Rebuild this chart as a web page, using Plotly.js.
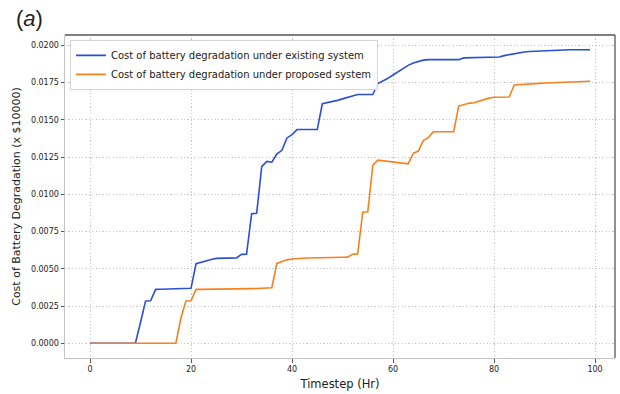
<!DOCTYPE html>
<html>
<head>
<meta charset="utf-8">
<script src="https://cdn.plot.ly/plotly-3.0.1.min.js"></script>
<style>
  html, body { margin: 0; padding: 0; background: #ffffff; }
  #chart { width: 620px; height: 394px; }
</style>
</head>
<body>
<div id="chart"></div>
<script>
// Hourly timesteps 0..99
const timesteps = Array.from({length: 100}, (_, i) => i);

// Cumulative battery degradation cost (x $10000), existing system
const costExisting = [
  0, 0, 0, 0, 0, 0, 0, 0, 0, 0.00002,
  0.0014, 0.00284, 0.00285, 0.00362, 0.00363, 0.00364, 0.00365, 0.00366, 0.00367, 0.00368,
  0.00369, 0.00534, 0.00545, 0.00553, 0.00562, 0.0057, 0.00571, 0.00571, 0.00572, 0.00573,
  0.00597, 0.00598, 0.0087, 0.00872, 0.01185, 0.0122, 0.01215, 0.0127, 0.01295, 0.01378,
  0.014, 0.01434, 0.01434, 0.01434, 0.01434, 0.01434, 0.01607, 0.01613, 0.0162, 0.0163,
  0.0164, 0.0165, 0.0166, 0.01669, 0.01669, 0.01669, 0.01669, 0.01743, 0.0176, 0.01778,
  0.018, 0.01823, 0.01845, 0.01865, 0.01881, 0.01893, 0.019, 0.01903, 0.01903, 0.01903,
  0.01903, 0.01903, 0.01903, 0.01903, 0.01915, 0.01916, 0.01917, 0.01917, 0.01918, 0.01919,
  0.0192, 0.01921, 0.0193, 0.01937, 0.01942, 0.01948, 0.01955, 0.01958, 0.0196, 0.01962,
  0.01964, 0.01966, 0.01968, 0.01969, 0.0197, 0.0197, 0.0197, 0.0197, 0.0197, 0.0197
];

// Cumulative battery degradation cost (x $10000), proposed system
const costProposed = [
  0, 0, 0, 0, 0, 0, 0, 0, 0, 0,
  0, 0, 0, 0, 0, 0, 0, 0, 0.0017, 0.00284,
  0.00285, 0.00362, 0.00362, 0.00362, 0.00362, 0.00363, 0.00363, 0.00363, 0.00364, 0.00364,
  0.00365, 0.00366, 0.00367, 0.00368, 0.0037, 0.00371, 0.00373, 0.00536, 0.0055, 0.0056,
  0.00566, 0.0057, 0.00571, 0.00572, 0.00572, 0.00573, 0.00574, 0.00575, 0.00576, 0.00577,
  0.00577, 0.00578, 0.00598, 0.006, 0.0088, 0.00882, 0.01195, 0.01229, 0.01225, 0.01222,
  0.01218, 0.01213, 0.01208, 0.01204, 0.01275, 0.0129, 0.0136, 0.0138, 0.01419, 0.01419,
  0.01419, 0.01419, 0.01419, 0.01592, 0.01603, 0.0161, 0.01614, 0.01625, 0.01635, 0.01645,
  0.01651, 0.01651, 0.01651, 0.01652, 0.01733, 0.01736, 0.01738, 0.0174, 0.01742, 0.01744,
  0.01746, 0.01747, 0.01748, 0.0175, 0.01751, 0.01753, 0.01754, 0.01755, 0.01757, 0.01758
];

const seriesNames = [
  'Cost of battery degradation under existing system',
  'Cost of battery degradation under proposed system'
];
const seriesColors = ['#2a4fd6', '#f7801e'];

const xTickVals = [0, 20, 40, 60, 80, 100];
const yTickVals = [0, 0.0025, 0.005, 0.0075, 0.01, 0.0125, 0.015, 0.0175, 0.02];

const traces = [costExisting, costProposed].map((ys, k) => ({
  x: timesteps,
  y: ys,
  type: 'scatter',
  mode: 'lines',
  name: seriesNames[k],
  line: {color: seriesColors[k], width: 1.6}
}));

const font = 'DejaVu Sans, Liberation Sans, sans-serif';

const layout = {
  width: 620,
  height: 394,
  margin: {l: 65, r: 5, t: 35, b: 36},
  paper_bgcolor: '#ffffff',
  plot_bgcolor: '#ffffff',
  font: {family: font, color: '#222', size: 8},
  showlegend: true,
  legend: {
    x: 0.009, y: 0.985, xanchor: 'left', yanchor: 'top',
    bgcolor: 'rgba(255,255,255,0.9)',
    bordercolor: '#d6d6d6', borderwidth: 1,
    font: {family: font, size: 10, color: '#222'},
    tracegroupgap: 0,
    itemwidth: 30
  },
  xaxis: {
    range: [-4.95, 103.95],
    tickvals: xTickVals,
    ticktext: xTickVals.map(String),
    ticks: 'outside', ticklen: 3.5, tickcolor: '#555', tickwidth: 1,
    tickfont: {family: font, size: 8, color: '#222'},
    showgrid: true, gridcolor: '#c8c8c8', griddash: '1.2px,2.2px', gridwidth: 1,
    zeroline: false,
    showline: true, linecolor: '#c4c4c4', linewidth: 1,
    title: {text: 'Timestep (Hr)', font: {family: font, size: 11.5, color: '#222'}, standoff: 6}
  },
  yaxis: {
    range: [-0.000985, 0.020685],
    tickvals: yTickVals,
    tickformat: '.4f',
    ticks: 'outside', ticklen: 3.5, tickcolor: '#555', tickwidth: 1,
    tickfont: {family: font, size: 8, color: '#222'},
    showgrid: true, gridcolor: '#c8c8c8', griddash: '1.2px,2.2px', gridwidth: 1,
    zeroline: false,
    showline: true, linecolor: '#c4c4c4', linewidth: 1,
    title: {text: 'Cost of Battery Degradation (x $10000)', font: {family: font, size: 11, color: '#222'}, standoff: 8}
  },
  shapes: [
    // darker top and right borders of the axes frame
    {type: 'line', xref: 'paper', yref: 'paper', x0: 0, x1: 1, y0: 1, y1: 1,
     line: {color: '#555', width: 1.3}},
    {type: 'line', xref: 'paper', yref: 'paper', x0: 1, x1: 1, y0: 0, y1: 1,
     line: {color: '#555', width: 1.3}}
  ],
  annotations: [
    {text: '(<i>a</i>)', xref: 'paper', yref: 'paper',
     x: -0.093, y: 1.052, xanchor: 'left', yanchor: 'middle', showarrow: false,
     font: {family: 'Liberation Sans, Arial, sans-serif', size: 22, color: '#222'}}
  ]
};

Plotly.newPlot('chart', traces, layout, {displayModeBar: false, staticPlot: true});
</script>
</body>
</html>
